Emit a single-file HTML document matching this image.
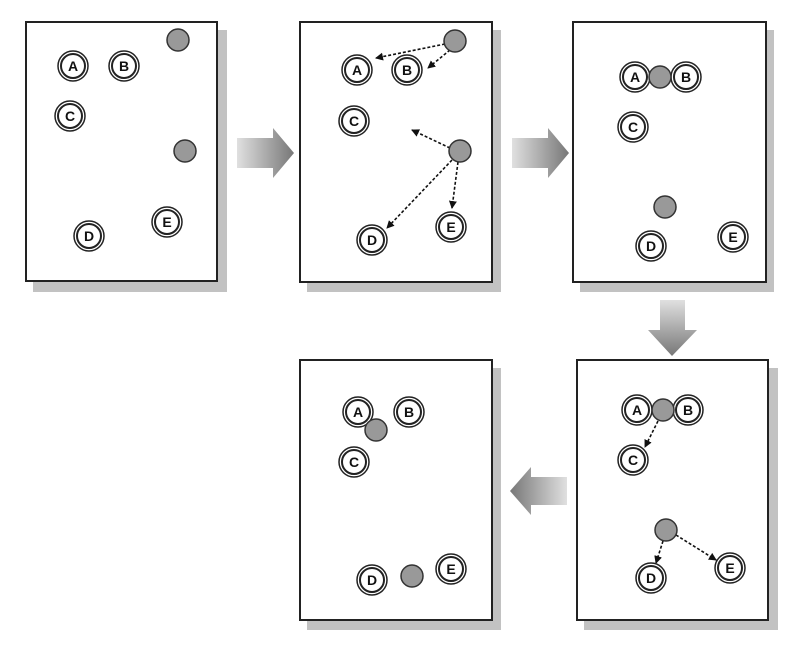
<!DOCTYPE html><html><head><style>body{margin:0;background:#fff}svg{display:block}</style></head><body>
<svg width="812" height="672" viewBox="0 0 812 672" xmlns="http://www.w3.org/2000/svg" font-family="Liberation Sans, sans-serif">
<defs>
<linearGradient id="gr" x1="0" x2="1"><stop offset="0" stop-color="#e0e0e0"/><stop offset="1" stop-color="#777"/></linearGradient>
<linearGradient id="gd" x1="0" x2="0" y1="0" y2="1"><stop offset="0" stop-color="#e0e0e0"/><stop offset="1" stop-color="#777"/></linearGradient>
<linearGradient id="gl" x1="1" x2="0"><stop offset="0" stop-color="#e0e0e0"/><stop offset="1" stop-color="#777"/></linearGradient>
<marker id="ah" markerWidth="8" markerHeight="8" refX="7" refY="4" orient="auto" markerUnits="userSpaceOnUse"><path d="M0,0 L8,4 L0,8z" fill="#111"/></marker>
<g id="n"><circle r="15" fill="#fff" stroke="#222" stroke-width="1.5"/><circle r="12" fill="#fff" stroke="#222" stroke-width="2"/></g>
<g id="g"><circle r="11" fill="#999" stroke="#333" stroke-width="1.5"/></g>
</defs>
<g fill="#999">
<rect x="33" y="30" width="194" height="262" opacity=".6"/>
<rect x="307" y="30" width="194" height="262" opacity=".6"/>
<rect x="580" y="30" width="194" height="262" opacity=".6"/>
<rect x="307" y="368" width="194" height="262" opacity=".6"/>
<rect x="584" y="368" width="194" height="262" opacity=".6"/>
</g>
<g fill="#fff" stroke="#222" stroke-width="2">
<rect x="26" y="22" width="191" height="259"/>
<rect x="300" y="22" width="192" height="260"/>
<rect x="573" y="22" width="193" height="260"/>
<rect x="300" y="360" width="192" height="260"/>
<rect x="577" y="360" width="191" height="260"/>
</g>
<path d="M237,138 H273 V128 L294,153 L273,178 V168 H237z" fill="url(#gr)"/>
<path d="M512,138 H548 V128 L569,153 L548,178 V168 H512z" fill="url(#gr)"/>
<path d="M660,300 V330 H648 L672,356 L697,330 H685 V300z" fill="url(#gd)"/>
<path d="M567,477 H531 V467 L510,491 L531,515 V505 H567z" fill="url(#gl)"/>
<g stroke="#111" stroke-width="1.6" stroke-dasharray="3,2" fill="none" marker-end="url(#ah)">
<line x1="445" y1="44" x2="376" y2="58"/>
<line x1="450" y1="50" x2="428" y2="68"/>
<line x1="450" y1="148" x2="412" y2="130"/>
<line x1="452" y1="160" x2="387" y2="228"/>
<line x1="458" y1="162" x2="452" y2="208"/>
<line x1="658" y1="421" x2="645" y2="447"/>
<line x1="663" y1="541" x2="656" y2="563"/>
<line x1="676" y1="535" x2="716" y2="560"/>
</g>
<g font-size="14" font-weight="bold" text-anchor="middle" fill="#111">
<use href="#n" x="73" y="66"/><text x="73" y="71">A</text>
<use href="#n" x="124" y="66"/><text x="124" y="71">B</text>
<use href="#n" x="70" y="116"/><text x="70" y="121">C</text>
<use href="#n" x="89" y="236"/><text x="89" y="241">D</text>
<use href="#n" x="167" y="222"/><text x="167" y="227">E</text>
<use href="#g" x="178" y="40"/><use href="#g" x="185" y="151"/>

<use href="#n" x="357" y="70"/><text x="357" y="75">A</text>
<use href="#n" x="407" y="70"/><text x="407" y="75">B</text>
<use href="#n" x="354" y="121"/><text x="354" y="126">C</text>
<use href="#n" x="372" y="240"/><text x="372" y="245">D</text>
<use href="#n" x="451" y="227"/><text x="451" y="232">E</text>
<use href="#g" x="455" y="41"/><use href="#g" x="460" y="151"/>

<use href="#n" x="635" y="77"/><text x="635" y="82">A</text>
<use href="#n" x="686" y="77"/><text x="686" y="82">B</text>
<use href="#g" x="660" y="77"/>
<use href="#n" x="633" y="127"/><text x="633" y="132">C</text>
<use href="#n" x="651" y="246"/><text x="651" y="251">D</text>
<use href="#n" x="733" y="237"/><text x="733" y="242">E</text>
<use href="#g" x="665" y="207"/>

<use href="#n" x="637" y="410"/><text x="637" y="415">A</text>
<use href="#n" x="688" y="410"/><text x="688" y="415">B</text>
<use href="#g" x="663" y="410"/>
<use href="#n" x="633" y="460"/><text x="633" y="465">C</text>
<use href="#n" x="651" y="578"/><text x="651" y="583">D</text>
<use href="#n" x="730" y="568"/><text x="730" y="573">E</text>
<use href="#g" x="666" y="530"/>

<use href="#n" x="358" y="412"/><text x="358" y="417">A</text>
<use href="#g" x="376" y="430"/>
<use href="#n" x="409" y="412"/><text x="409" y="417">B</text>
<use href="#n" x="354" y="462"/><text x="354" y="467">C</text>
<use href="#n" x="372" y="580"/><text x="372" y="585">D</text>
<use href="#g" x="412" y="576"/>
<use href="#n" x="451" y="569"/><text x="451" y="574">E</text>
</g>
</svg>
</body></html>
